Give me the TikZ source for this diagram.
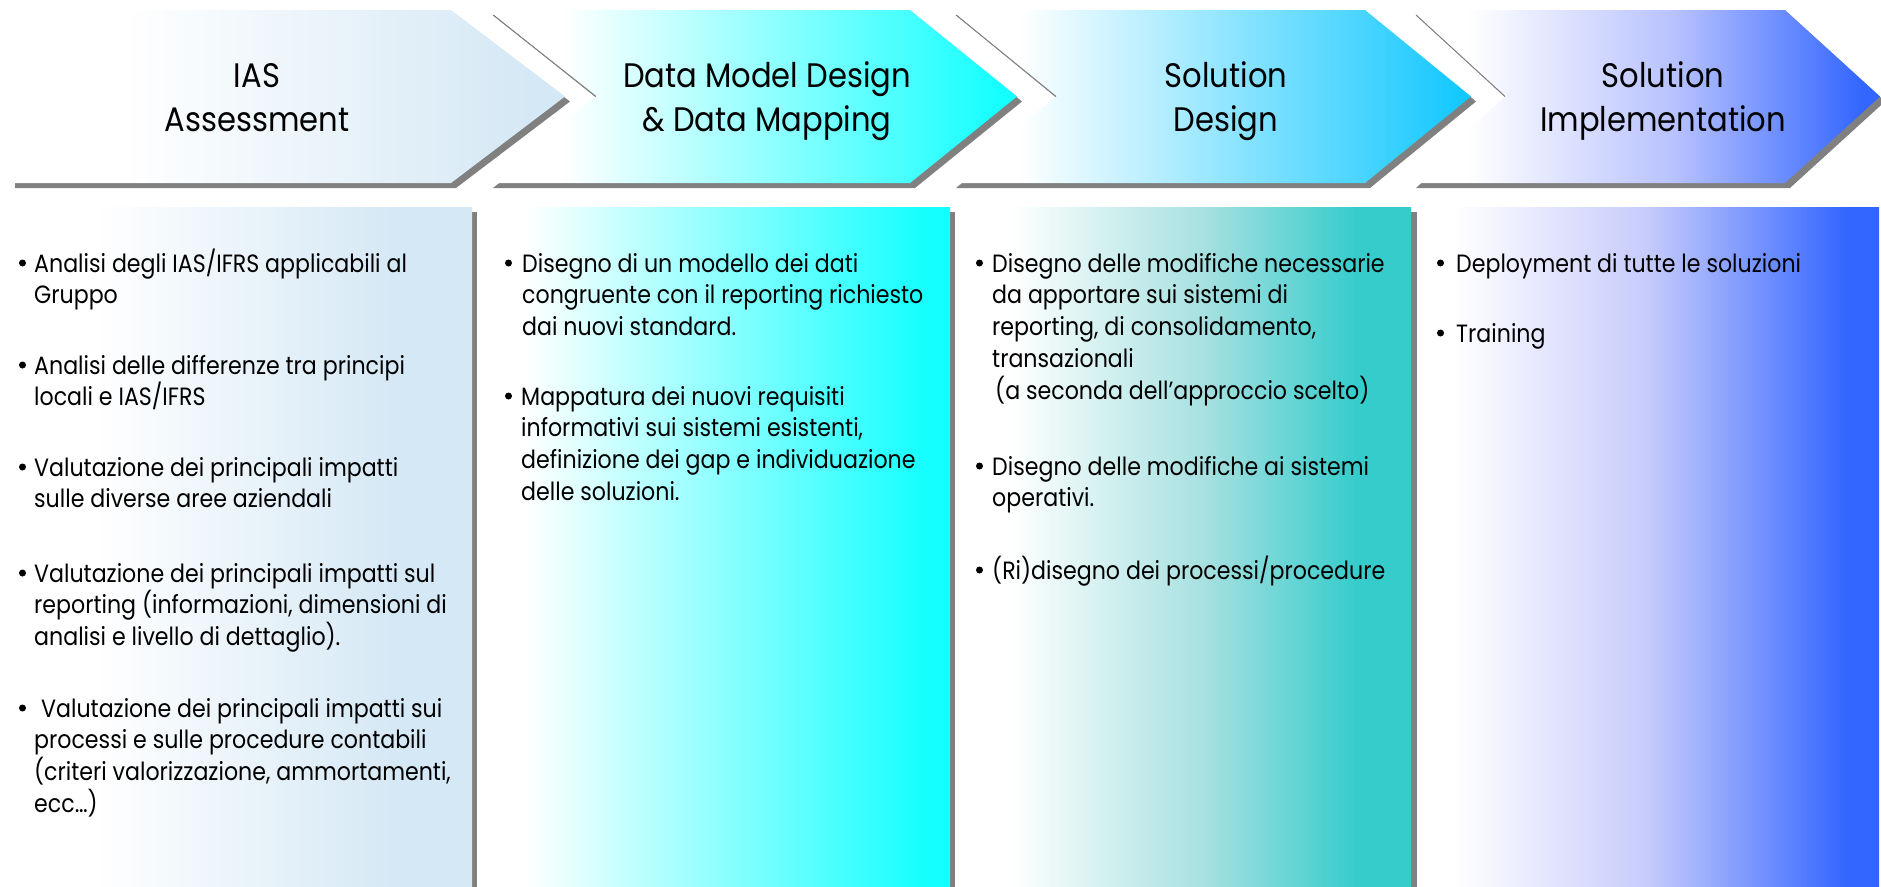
\documentclass[tikz,border=0pt]{standalone}
\usepackage{fontspec}
\newfontfamily\bodyfont{Poppins}[FakeStretch=0.885]
\newfontfamily\titlefont{Poppins}[FakeStretch=0.9]
\definecolor{shadowgray}{HTML}{808080}
\definecolor{cA}{HTML}{D5E8F5}
\definecolor{cB}{HTML}{14FFFF}
\definecolor{cC}{HTML}{14C8FF}
\definecolor{cD}{HTML}{3366FF}
\definecolor{cDm}{HTML}{B8C2FF}
\definecolor{cDn}{HTML}{C6CBFC}
\definecolor{cE}{HTML}{36CCCC}
\definecolor{cEm}{HTML}{A6E0E0}
% shadings: the path bounding box maps to 25bp..75bp
\pgfdeclarehorizontalshading{chA}{100bp}{color(0bp)=(white); color(25bp)=(white); color(35bp)=(white); color(72bp)=(cA); color(100bp)=(cA)}
\pgfdeclarehorizontalshading{chB}{100bp}{color(0bp)=(white); color(25bp)=(white); color(32bp)=(white); color(73.5bp)=(cB); color(100bp)=(cB)}
\pgfdeclarehorizontalshading{chC}{100bp}{color(0bp)=(white); color(25bp)=(white); color(31.5bp)=(white); color(74bp)=(cC); color(100bp)=(cC)}
\pgfdeclarehorizontalshading{chD}{100bp}{color(0bp)=(white); color(25bp)=(white); color(31bp)=(white); color(53bp)=(cDm); color(73bp)=(cD); color(100bp)=(cD)}
\pgfdeclarehorizontalshading{bxA}{100bp}{color(0bp)=(white); color(25bp)=(white); color(35bp)=(white); color(67bp)=(cA); color(100bp)=(cA)}
\pgfdeclarehorizontalshading{bxB}{100bp}{color(0bp)=(white); color(25bp)=(white); color(30bp)=(white); color(72.5bp)=(cB); color(100bp)=(cB)}
\pgfdeclarehorizontalshading{bxC}{100bp}{color(0bp)=(white); color(25bp)=(white); color(31bp)=(white); color(52.5bp)=(cEm); color(69bp)=(cE); color(100bp)=(cE)}
\pgfdeclarehorizontalshading{bxD}{100bp}{color(0bp)=(white); color(25bp)=(white); color(29bp)=(white); color(50bp)=(cDn); color(71.5bp)=(cD); color(100bp)=(cD)}
\tikzset{
  shadowfill/.style={fill=shadowgray},
  notchline/.style={draw=shadowgray, line width=1pt},
  body/.style={font=\bodyfont\fontsize{25}{30}\selectfont, inner sep=0pt, anchor=base west, text=black},
  title/.style={font=\titlefont\fontsize{34}{40}\selectfont, inner sep=0pt, anchor=base, text=black},
  bulletdot/.style={circle, fill=black, inner sep=0pt, minimum size=7pt},
}
\newcommand{\pitch}{31.8}
\newcommand{\bpara}[5]{%
  \node[bulletdot] (#1b) at ({#2+3.5},{#4-9}) {};
  \foreach \ln [count=\i] in {#5} {
    \node[body] (#1l\i) at ({#3},{#4+(\i-1)*\pitch}) {\ln};
  }
}
\begin{document}
\begin{tikzpicture}[x=1pt,y=-1pt]
\useasboundingbox (0,0) rectangle (1881,886);
% ---------- columns ----------
\fill[shadowfill] (5,212) rectangle (477,890);
\shade[shading=bxA] (0,207) rectangle (472,886);
\fill[shadowfill] (483,212) rectangle (955,890);
\shade[shading=bxB] (478,207) rectangle (950,886);
\fill[shadowfill] (960,212) rectangle (1417,890);
\shade[shading=bxC] (955,207) rectangle (1411,886);
\shade[shading=bxD] (1417,207) rectangle (1879,886);
% ---------- chevrons ----------
% C1
\fill[shadowfill] (15,15) -- (456,15) -- (570,101.5) -- (456,188) -- (15,188) -- cycle;
\shade[shading=chA] (10,10) -- (451,10) -- (565,96.5) -- (451,183) -- (10,183) -- cycle;
% C2
\fill[shadowfill] (493,15) -- (915,15) -- (1022,101.5) -- (915,188) -- (493,188) -- (601,101.5) -- cycle;
\shade[shading=chB] (488,10) -- (910,10) -- (1017,96.5) -- (910,183) -- (488,183) -- (596,96.5) -- cycle;
\draw[notchline] (493,15) -- (596,96.5);
% C3
\fill[shadowfill] (956,15) -- (1370,15) -- (1476,101.5) -- (1370,188) -- (956,188) -- (1061,101.5) -- cycle;
\shade[shading=chC] (951,10) -- (1365,10) -- (1471,96.5) -- (1365,183) -- (951,183) -- (1056,96.5) -- cycle;
\draw[notchline] (956,15) -- (1056,96.5);
% C4
\fill[shadowfill] (1416,15) -- (1790,15) -- (1885,101.5) -- (1790,188) -- (1416,188) -- (1510,101.5) -- cycle;
\shade[shading=chD] (1411,10) -- (1785,10) -- (1880,96.5) -- (1785,183) -- (1411,183) -- (1505,96.5) -- cycle;
\draw[notchline] (1416,15) -- (1505,96.5);
% ---------- titles ----------
\node[title] (t1a) at (257,87.5) {IAS};
\node[title] (t1b) at (257,131) {Assessment};
\node[title] (t2a) at (767,87.5) {Data Model Design};
\node[title] (t2b) at (767,131) {\& Data Mapping};
\node[title] (t3a) at (1226,87.5) {Solution};
\node[title] (t3b) at (1226,131) {Design};
\node[title] (t4a) at (1663,87.5) {Solution};
\node[title] (t4b) at (1663,131) {Implementation};
% ---------- column 1 ----------
\bpara{a1}{19}{34}{272}{{Analisi degli IAS/IFRS applicabili al},{Gruppo}}
\bpara{a2}{19}{34}{374}{{Analisi delle differenze tra principi},{locali e IAS/IFRS}}
\bpara{a3}{19}{34}{476}{{Valutazione dei principali impatti},{sulle diverse aree aziendali}}
\bpara{a4}{19}{34}{582}{{Valutazione dei principali impatti sul},{reporting (informazioni, dimensioni di},{analisi e livello di dettaglio).}}
\bpara{a5}{19}{34}{717}{{\hspace*{7pt}Valutazione dei principali impatti sui},{processi e sulle procedure contabili},{(criteri valorizzazione, ammortamenti,},{ecc…)}}
% ---------- column 2 ----------
\bpara{b1}{505}{522}{272}{{Disegno di un modello dei dati},{congruente con il reporting richiesto},{dai nuovi standard.}}
\bpara{b2}{505}{521}{405}{{Mappatura dei nuovi requisiti},{informativi sui sistemi esistenti,},{definizione dei gap e individuazione},{delle soluzioni.}}
% ---------- column 3 ----------
\bpara{c1}{976}{992}{272}{{Disegno delle modifiche necessarie},{da apportare sui sistemi di},{reporting, di consolidamento,},{transazionali},{\hspace*{3pt}(a seconda dell’approccio scelto)}}
\bpara{c2}{976}{992}{475}{{Disegno delle modifiche ai sistemi},{operativi.}}
\bpara{c3}{976}{992}{579}{{(Ri)disegno dei processi/procedure}}
% ---------- column 4 ----------
\bpara{d1}{1437}{1456}{272}{{Deployment di tutte le soluzioni}}
\bpara{d2}{1437}{1456}{342}{{Training}}
\end{tikzpicture}
\end{document}
